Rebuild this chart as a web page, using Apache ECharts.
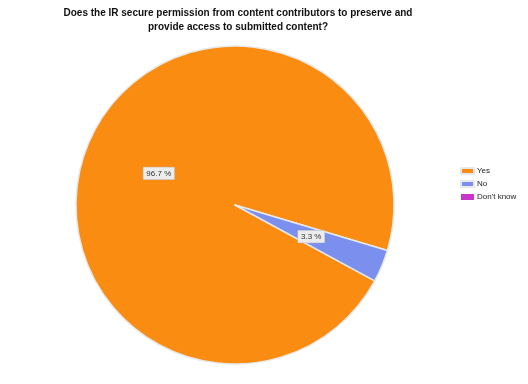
<!DOCTYPE html>
<html><head><meta charset="utf-8">
<script src="https://cdn.jsdelivr.net/npm/echarts@6/dist/echarts.min.js"></script>
<style>html,body{margin:0;padding:0;background:#fff}#c{width:528px;height:384px}</style>
</head><body><div id="c"></div>
<script>
const titleLines = ["Does the IR secure permission from content contributors to preserve and", "provide access to submitted content?"];
const categories = ["Yes", "No", "Don't know"];
const values = [96.7, 3.3, 0];
const colors = ["#FA8C12", "#7A8FEE", "#C935CC"];

const chart = echarts.init(document.getElementById('c'), null, {renderer: 'canvas'});
chart.setOption({
  animation: false,
  backgroundColor: '#ffffff',
  title: {
    text: titleLines.join('\n'),
    left: 233, top: 1, textAlign: 'center',
    textStyle: {fontFamily: 'Liberation Sans, Arial', fontSize: 10, fontWeight: 'bold', color: '#111', lineHeight: 14}
  },
  legend: {
    orient: 'vertical', left: 455, top: 162,
    itemWidth: 13, itemHeight: 6, itemGap: 5,
    icon: 'rect',
    data: categories,
    textStyle: {fontFamily: 'Liberation Sans, Arial', fontSize: 8, color: '#222', padding: [0,0,0,-2]}
  },
  series: [{
    type: 'pie',
    center: [235, 205],
    radius: [0, 159],
    startAngle: -28.5,
    clockwise: true,
    avoidLabelOverlap: false,
    itemStyle: {borderColor: '#e8e8e8', borderWidth: 1.5},
    label: {
      show: true, position: 'inside',
      formatter: p => p.value.toFixed(1) + ' %',
      fontFamily: 'Liberation Sans, Arial', fontSize: 8, color: '#333',
      backgroundColor: '#ececec', borderColor: '#bbbbbb', borderWidth: 0.5,
      padding: [2, 3]
    },
    labelLine: {show: false},
    emphasis: {disabled: true},
    data: categories.map((c, i) => ({
      name: c, value: values[i],
      itemStyle: values[i] === 0 ? {color: colors[i], borderWidth: 0} : {color: colors[i]},
      label: values[i] === 0 ? {show: false} : undefined
    }))
  }]
});
</script></body></html>
